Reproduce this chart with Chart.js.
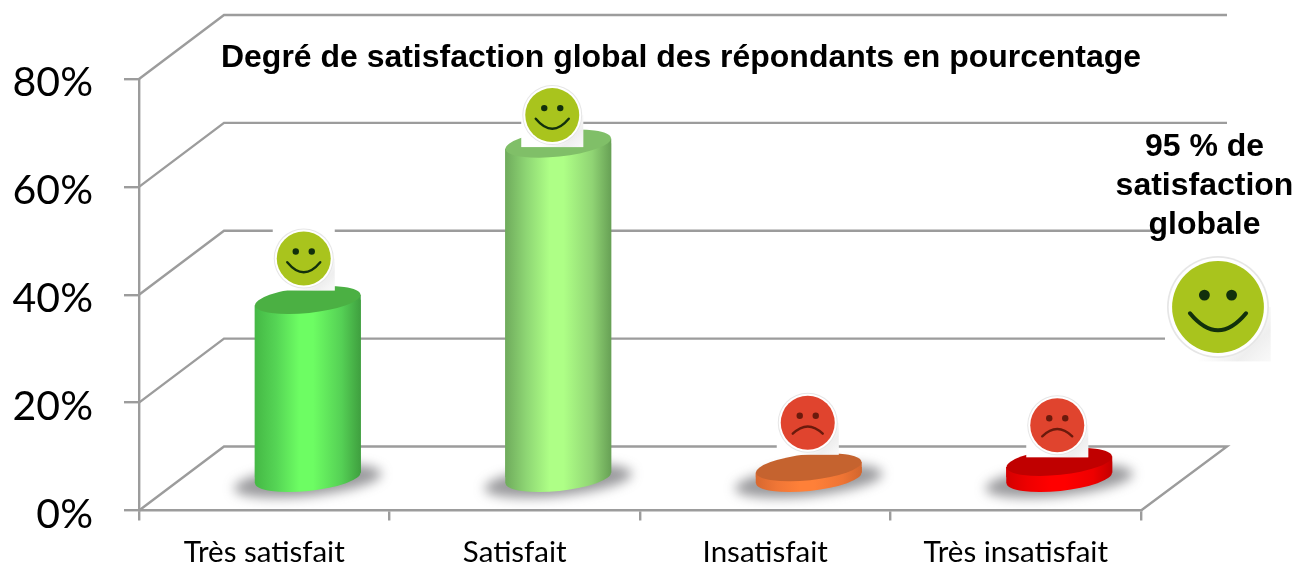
<!DOCTYPE html>
<html lang="fr">
<head>
<meta charset="utf-8">
<title>Degré de satisfaction</title>
<style>html,body{margin:0;padding:0;background:#fff}canvas{display:block}</style>
<script src="https://cdn.jsdelivr.net/npm/chart.js@4/dist/chart.umd.min.js"></script>
</head>
<body>
<canvas id="c" width="1311" height="563"></canvas>
<script>
const categories = ['Très satisfait', 'Satisfait', 'Insatisfait', 'Très insatisfait'];
const percentages = [33, 62, 2, 3];
const moods = ['happy', 'happy', 'sad', 'sad'];
const chartTitle = 'Degré de satisfaction global des répondants en pourcentage';
const sideNote = ['95 % de', 'satisfaction', 'globale'];
const overallMood = 'happy';

const sideStops = [
  ['#45b845', '#55d455', '#6dfd63', '#6dfd63', '#55d055', '#3f9f3f'],
  ['#6fab5c', '#8ed674', '#aeff86', '#aeff86', '#90d474', '#67a055'],
  ['#d8682f', '#f07636', '#ff8038', '#ff8038', '#ee7434', '#d2662e'],
  ['#d40000', '#ee0000', '#ff0000', '#ff0000', '#ee0000', '#c40000']
];
const topColours = ['#4bb043', '#80bf68', '#c5632f', '#c00000'];
const GRID = '#9c9c9c';
const DEPTH_X = 85, DEPTH_Y = -64;
const BAR_SHIFT_X = 43.5, BAR_SHIFT_Y = -32.5;
const RX = 53, RY = 13, TILT = -6 * Math.PI / 180;
const TANGENT_Y = 5.2;
const smileyOffsets = [[-4, -41.5], [-6, -28.5], [-1, -44.5], [-2, -36.5]];

function sideGradient(ctx, x, stops) {
  const g = ctx.createLinearGradient(x - RX, 0, x + RX, 0);
  [0, .2, .42, .55, .82, 1].forEach((p, i) => g.addColorStop(p, stops[i]));
  return g;
}

function drawSmiley(ctx, cx, cy, mood, r) {
  const s = r / 30;
  ctx.save();
  // square white backing of the pasted picture, faded at its corner
  ctx.fillStyle = '#fff';
  ctx.fillRect(cx - 31 * s, cy - 31 * s, 62 * s, 63 * s);
  const f = ctx.createLinearGradient(cx + 10 * s, cy + 10 * s, cx + 31 * s, cy + 32 * s);
  f.addColorStop(0, 'rgba(225,225,225,0)');
  f.addColorStop(.55, 'rgba(225,225,225,.55)');
  f.addColorStop(1, 'rgba(240,240,240,.4)');
  ctx.fillStyle = f;
  ctx.fillRect(cx - 31 * s, cy, 62 * s, 32 * s);
  // rim
  ctx.beginPath(); ctx.arc(cx, cy, r, 0, 7);
  ctx.fillStyle = '#e6e6e6'; ctx.fill();
  ctx.beginPath(); ctx.arc(cx, cy, r - 1 * s, 0, 7);
  ctx.fillStyle = '#fff'; ctx.fill();
  // face
  const face = mood === 'happy' ? '#a9c41d' : '#e0442e';
  const ink = mood === 'happy' ? '#12300c' : '#6b1a0c';
  ctx.beginPath(); ctx.arc(cx, cy, r - 3 * s, 0, 7);
  ctx.fillStyle = face; ctx.fill();
  ctx.fillStyle = ink;
  [-8, 8].forEach(d => { ctx.beginPath(); ctx.arc(cx + d * s, cy - 7 * s, 3.2 * s, 0, 7); ctx.fill(); });
  ctx.strokeStyle = ink; ctx.lineWidth = 2.4 * s; ctx.lineCap = 'round';
  ctx.beginPath();
  if (mood === 'happy') {
    ctx.moveTo(cx - 16.5 * s, cy + 3.7 * s);
    ctx.quadraticCurveTo(cx, cy + 23.7 * s, cx + 16.5 * s, cy + 3.7 * s);
  } else {
    ctx.moveTo(cx - 15 * s, cy + 11 * s);
    ctx.quadraticCurveTo(cx, cy - 3.6 * s, cx + 15 * s, cy + 11 * s);
  }
  ctx.stroke();
  ctx.restore();
}

const walls = {
  id: 'walls',
  beforeDatasetsDraw(chart) {
    const { ctx, chartArea: a, scales: { y } } = chart;
    ctx.save();
    ctx.strokeStyle = GRID; ctx.lineWidth = 2.4; ctx.lineJoin = 'miter';
    y.ticks.forEach(t => {
      const py = y.getPixelForValue(t.value);
      ctx.beginPath();
      ctx.moveTo(a.left, py);
      ctx.lineTo(a.left + DEPTH_X, py + DEPTH_Y);
      ctx.lineTo(a.right + DEPTH_X + 1, py + DEPTH_Y);
      if (t.value === 0) ctx.lineTo(a.right, py);
      ctx.stroke();
    });
    // white backing of the side note and its picture
    ctx.fillStyle = '#fff';
    ctx.fillRect(a.right + 24, 132, 170, 232);
    ctx.restore();
  }
};

function sidePath(ctx, bar, base) {
  ctx.moveTo(bar.x - RX, bar.y + TANGENT_Y);
  ctx.lineTo(bar.x + RX, bar.y - TANGENT_Y);
  ctx.lineTo(bar.x + RX, base - TANGENT_Y);
  ctx.lineTo(bar.x - RX, base + TANGENT_Y);
  ctx.closePath();
}

const cylinders = {
  id: 'cylinders',
  beforeDatasetDraw(chart, args) {
    const { ctx, scales: { y } } = chart;
    ctx.save();
    ctx.translate(BAR_SHIFT_X, BAR_SHIFT_Y);
    const base = y.getPixelForValue(0);
    args.meta.data.forEach((bar, i) => {
      ctx.save();
      ctx.filter = 'blur(6px)';
      ctx.fillStyle = 'rgba(70,70,75,.55)';
      ctx.beginPath();
      ctx.ellipse(bar.x, base + 3, RX + 21, RY + 2, TILT, 0, 7);
      ctx.fill();
      ctx.restore();
      ctx.fillStyle = sideGradient(ctx, bar.x, sideStops[i]);
      ctx.beginPath();
      ctx.ellipse(bar.x, base, RX, RY, TILT, 0, 7);
      sidePath(ctx, bar, base);
      ctx.fill();
    });
    // the side of a cylinder ends on the tilted ellipses, not on a flat edge
    ctx.save();
    ctx.beginPath();
    args.meta.data.forEach(bar => sidePath(ctx, bar, base));
    ctx.clip();
  },
  afterDatasetDraw(chart, args) {
    const { ctx } = chart;
    ctx.restore();
    args.meta.data.forEach((bar, i) => {
      ctx.fillStyle = topColours[i];
      ctx.beginPath();
      ctx.ellipse(bar.x, bar.y, RX, RY, TILT, 0, 7);
      ctx.fill();
    });
    args.meta.data.forEach((bar, i) => {
      const [dx, dy] = smileyOffsets[i];
      drawSmiley(ctx, bar.x + dx, bar.y + dy, moods[i], 30);
    });
    ctx.restore();
  },
  afterDraw(chart) {
    const { ctx, chartArea: a } = chart;
    ctx.save();
    ctx.fillStyle = '#000';
    ctx.font = 'bold 32px "Liberation Sans"';
    ctx.textAlign = 'center'; ctx.textBaseline = 'middle';
    sideNote.forEach((line, i) => ctx.fillText(line, a.right + 63.5, 147 + i * 39));
    drawSmiley(ctx, a.right + 77, 307, overallMood, 51);
    ctx.restore();
  }
};

const titleShift = {
  id: 'titleShift',
  afterLayout(chart) {
    // centre the title over the 3D plot
    chart.titleBlock.left = chart.chartArea.left + 82;
    chart.titleBlock.right = chart.chartArea.right;
  }
};

function barFill(c) {
  const x = c.chart.scales.x;
  if (c.dataIndex === undefined || !x) return 'rgba(0,0,0,0)';
  const px = x.getPixelForValue(c.dataIndex);
  if (!Number.isFinite(px)) return 'rgba(0,0,0,0)';
  return sideGradient(c.chart.ctx, px, sideStops[c.dataIndex]);
}

new Chart(document.getElementById('c'), {
  type: 'bar',
  data: {
    labels: categories,
    datasets: [{
      data: percentages,
      barThickness: RX * 2,
      clip: false,
      borderWidth: 0,
      backgroundColor: barFill
    }]
  },
  options: {
    responsive: false,
    maintainAspectRatio: false,
    animation: false,
    layout: { padding: { right: 170 } },
    plugins: {
      legend: { display: false },
      tooltip: { enabled: false },
      title: {
        display: true,
        text: chartTitle,
        fullSize: false,
        color: '#000',
        font: { family: '"Liberation Sans"', size: 32, weight: 'bold' },
        padding: { top: 39, bottom: 1.6 }
      }
    },
    scales: {
      x: {
        grid: { drawOnChartArea: false, color: GRID, lineWidth: 2.4, tickLength: 10 },
        border: { color: GRID, width: 2.4 },
        ticks: { color: '#000', padding: 14, maxRotation: 0, font: { family: 'Lato', size: 29.5 } },
        afterFit(s) { s.height = 52.5; s.paddingLeft = 0; s.paddingRight = 0; s.paddingTop = 0; s.paddingBottom = 0; }
      },
      y: {
        min: 0, max: 80,
        grid: { drawOnChartArea: false, color: GRID, lineWidth: 2.4, tickLength: 15 },
        border: { color: GRID, width: 2.4 },
        ticks: { stepSize: 20, color: '#000', padding: 31, labelOffset: 4, font: { family: 'Lato', size: 41 }, callback: v => v + '%' },
        afterFit(s) { s.width = 139; s.paddingTop = 0; s.paddingBottom = 0; s.paddingLeft = 0; s.paddingRight = 0; }
      }
    }
  },
  plugins: [walls, cylinders, titleShift]
});
</script>
</body>
</html>
